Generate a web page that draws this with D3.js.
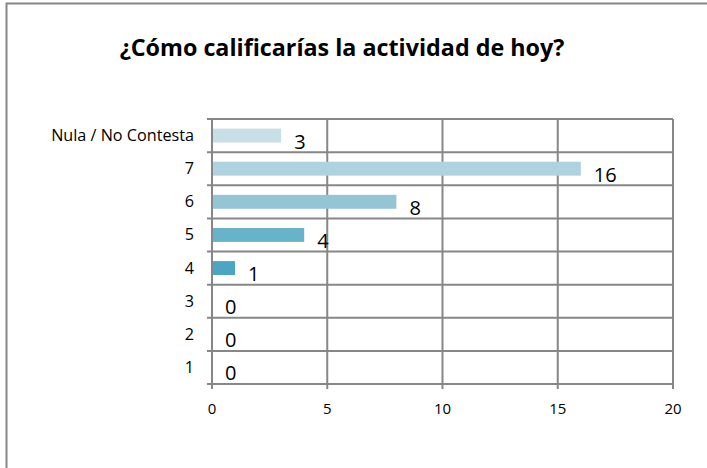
<!DOCTYPE html>
<html>
<head>
<meta charset="utf-8">
<script src="https://cdn.jsdelivr.net/npm/d3@7"></script>
<style>
  html, body { margin: 0; padding: 0; background: #fff; }
  svg { display: block; }
  text { font-family: "Open Sans", "Noto Sans", sans-serif; fill: #000; }
</style>
</head>
<body>
<svg id="chart" width="707" height="468"></svg>
<script>
// Rating categories, listed top to bottom
const categories = ["Nula / No Contesta", "7", "6", "5", "4", "3", "2", "1"];
const counts = [3, 16, 8, 4, 1, 0, 0, 0];
const barColors = ["#c7dfe7", "#aed2de", "#93c5d5", "#67b3ca", "#4aa6c1", "#3d9ab8", "#3d9ab8", "#3d9ab8"];
const xTicks = [0, 5, 10, 15, 20];
const title = "¿Cómo calificarías la actividad de hoy?";

const svg = d3.select("#chart");
const gridColor = "#878787";

// Frame around the chart area
svg.append("rect")
  .attr("x", 6.5).attr("y", 3.5)
  .attr("width", 720).attr("height", 480)
  .attr("fill", "none").attr("stroke", gridColor).attr("stroke-width", 2);

// Title, fitted to its span
const titleText = svg.append("text")
  .attr("x", 342).attr("y", 56)
  .attr("text-anchor", "middle")
  .style("font-size", "20px").style("font-weight", "bold")
  .text(title);
const tw = titleText.node().getComputedTextLength();
titleText.style("font-size", (20 * 445 / tw).toFixed(2) + "px");

const plot = { left: 212, right: 673, top: 119, bottom: 384 };

const x = d3.scaleLinear().domain([0, 20]).range([plot.left, plot.right]);
const y = d3.scaleBand().domain(categories).range([plot.top, plot.bottom]).paddingInner(0.58).paddingOuter(0.29);
const yb = d3.scaleBand().domain(categories).range([plot.top, plot.bottom]);

// Vertical gridlines
svg.append("g").selectAll("line").data(xTicks).join("line")
  .attr("x1", d => x(d)).attr("x2", d => x(d))
  .attr("y1", plot.top).attr("y2", plot.bottom + 5)
  .attr("stroke", gridColor).attr("stroke-width", 2);

// Horizontal gridlines at band boundaries
const bounds = categories.map(c => yb(c)).concat([plot.bottom]);
svg.append("g").selectAll("line").data(bounds).join("line")
  .attr("x1", plot.left - 5).attr("x2", plot.right)
  .attr("y1", d => d).attr("y2", d => d)
  .attr("stroke", gridColor).attr("stroke-width", 2);

// Bars
svg.append("g").selectAll("rect").data(categories).join("rect")
  .attr("x", x(0) + 1)
  .attr("y", d => y(d))
  .attr("width", (d, i) => Math.max(0, x(counts[i]) - x(0) - 1))
  .attr("height", y.bandwidth())
  .attr("fill", (d, i) => barColors[i]);

// Value labels
svg.append("g").selectAll("text").data(categories).join("text")
  .attr("x", (d, i) => x(counts[i]) + 13)
  .attr("y", d => y(d) + y.bandwidth() / 2 + 13)
  .style("font-size", "20px")
  .text((d, i) => counts[i]);

// Category axis labels
const catLabels = svg.append("g").selectAll("text").data(categories).join("text")
  .attr("x", 194)
  .attr("y", d => yb(d) + yb.bandwidth() / 2 + 5.5)
  .attr("text-anchor", "end")
  .style("font-size", "14px")
  .text(d => d);
const cw = catLabels.node().getComputedTextLength();
catLabels.style("font-size", (14 * 143 / cw).toFixed(2) + "px");

// Value axis labels
svg.append("g").selectAll("text").data(xTicks).join("text")
  .attr("x", d => x(d))
  .attr("y", 414)
  .attr("text-anchor", "middle")
  .style("font-size", "15px")
  .text(d => d);
</script>
</body>
</html>
